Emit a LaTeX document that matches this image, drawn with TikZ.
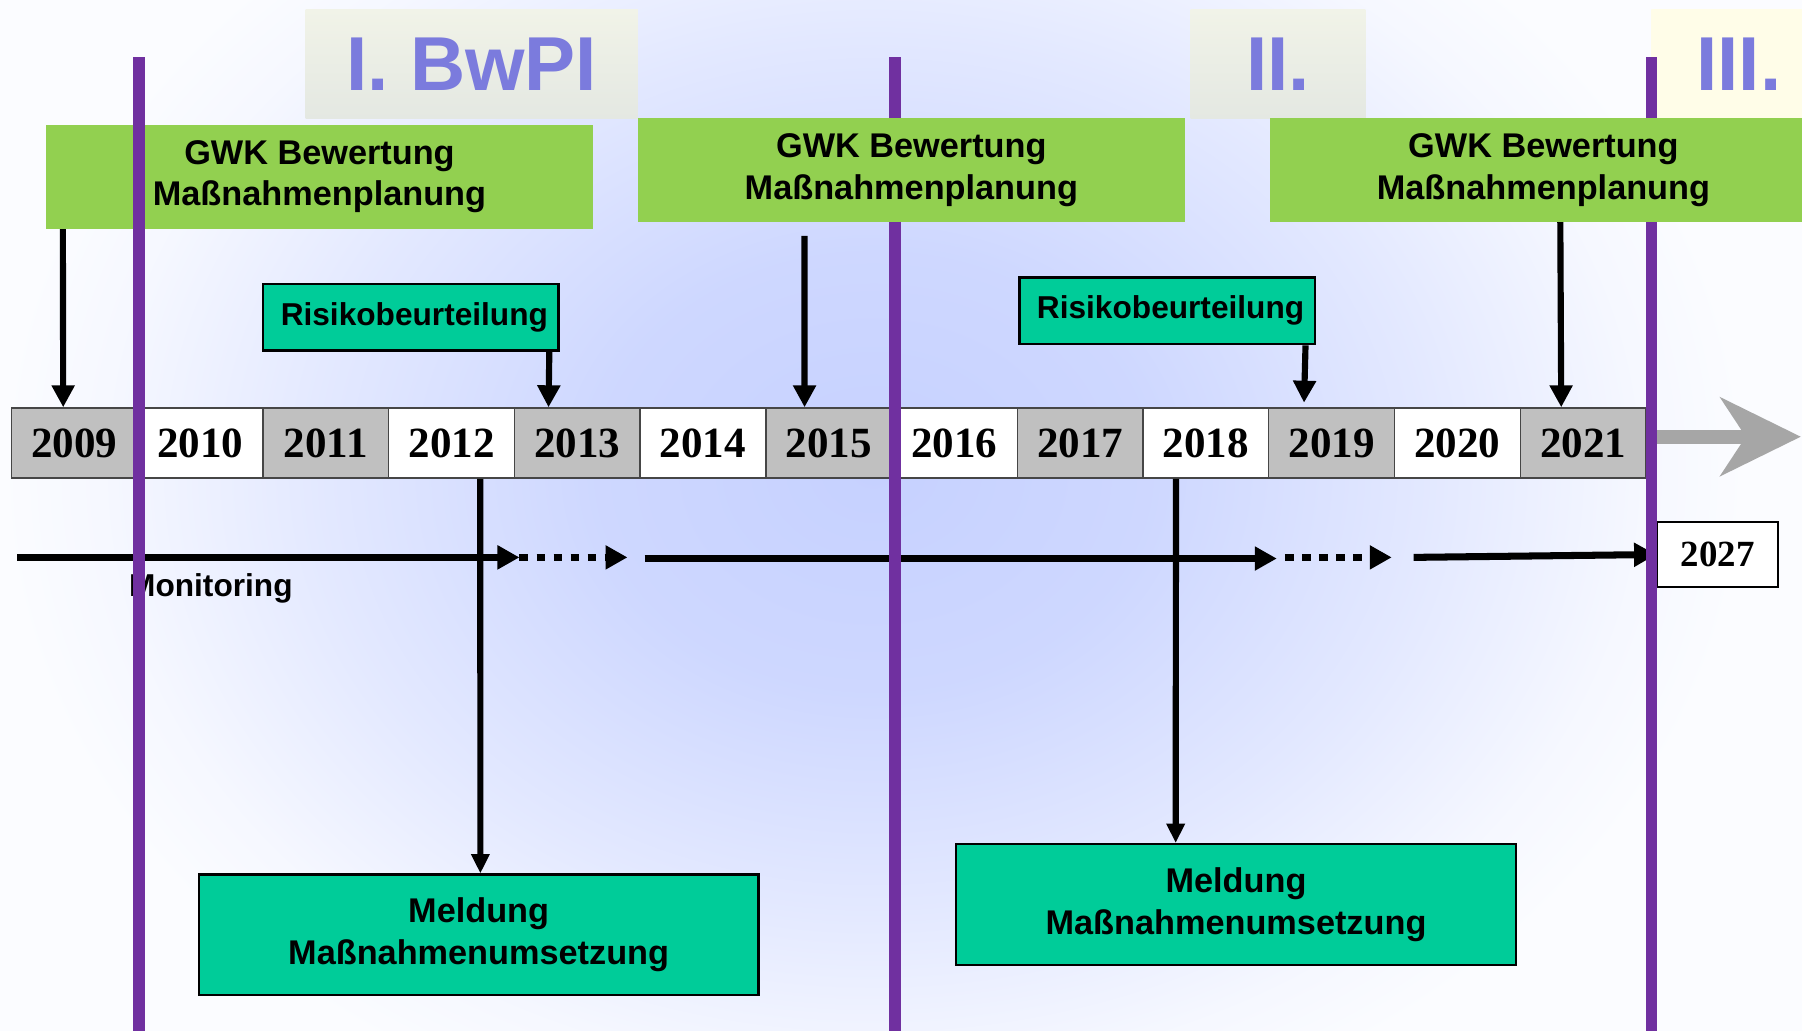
\documentclass[tikz,border=0pt]{standalone}
\usepackage{fontspec}
\setmainfont{Liberation Serif}
\newfontfamily\arial{Liberation Sans}
\usetikzlibrary{arrows.meta}
\definecolor{gwkgruen}{RGB}{146,208,80}
\definecolor{risikogruen}{RGB}{0,204,153}
\definecolor{lila}{RGB}{112,48,160}
\definecolor{titelblau}{RGB}{123,123,221}
\definecolor{jahrgrau}{RGB}{192,192,192}
\definecolor{jahrrand}{RGB}{70,70,70}
\definecolor{pfeilgrau}{RGB}{166,166,166}
\definecolor{phaseoben}{RGB}{241,243,232}
\definecolor{phaseunten}{RGB}{228,232,226}
\definecolor{phasegelb}{RGB}{255,253,232}
\definecolor{bginnen}{RGB}{198,209,255}
\definecolor{bgaussen}{RGB}{251,252,255}
\pgfdeclareradialshading{bgschatten}{\pgfpoint{0bp}{0bp}}{color(0bp)=(bginnen); color(8bp)=(bginnen!85!bgaussen); color(16bp)=(bginnen!45!bgaussen); color(22bp)=(bginnen!10!bgaussen); color(25bp)=(bgaussen); color(50bp)=(bgaussen)}
\newcommand\pu{0.022985cm}

\begin{document}
\begin{tikzpicture}[x=\pu,y=-\pu,
        phase/.style={inner sep=0pt,minimum height=95*\pu,top color=phaseoben,bottom color=phaseunten,text=titelblau,font=\arial\bfseries\fontsize{43.5}{50}\selectfont},
        gwk/.style={inner sep=0pt,fill=gwkgruen,minimum width=476*\pu,minimum height=90*\pu,align=center,font=\arial\bfseries\fontsize{19.5}{23.5}\selectfont},
        risiko/.style={inner sep=0pt,fill=risikogruen,draw=black,line width=1.3pt,minimum width=257*\pu,minimum height=58*\pu,font=\arial\bfseries\fontsize{18}{21}\selectfont},
        meldung/.style={inner sep=0pt,fill=risikogruen,draw=black,line width=1.3pt,minimum width=487*\pu,minimum height=105*\pu,align=center,font=\arial\bfseries\fontsize{19.5}{24}\selectfont},
        jahr/.style={inner sep=0pt,draw=jahrrand,line width=0.8pt,minimum width=109.4*\pu,minimum height=61*\pu,font=\bfseries\fontsize{24.5}{28}\selectfont},
        pfeil/.style={line width=3.5pt,-{Triangle[length=12.5pt,width=12.5pt]}},
        mpfeil/.style={line width=4pt,-{Triangle[length=12.5pt,width=13pt]}},
        punkte/.style={dash pattern=on 5pt off 4.7pt},
        zeitpfeil/.style={draw=pfeilgrau,line width=7.9pt,-{Stealth[length=45.6pt,width=44.3pt,inset=14.3pt,fill=pfeilgrau]}},
        trenner/.style={draw=lila,line width=6.6pt}]
        \useasboundingbox (0,0) rectangle (1568,897);
        \fill[bgaussen] (0,0) rectangle (1568,897);
        \begin{scope}
            \clip (0,0) rectangle (1568,897);
            \shade[shading=bgschatten] (760,410) ellipse [x radius=760,y radius=600];
        \end{scope}

        \node[phase,minimum width=289*\pu] (ph1) at (410.5,55.5) {I. BwPI};
        \node[phase,minimum width=152*\pu] (ph2) at (1112,55.5) {II.};
        \node[phase,minimum width=152*\pu,top color=phasegelb,bottom color=phasegelb] (ph3) at (1513,55.5) {III.};

        \node[gwk] (gwk1) at (278,154) {GWK Bewertung\\Maßnahmenplanung};
        \node[gwk] (gwk2) at (793,148) {GWK Bewertung\\Maßnahmenplanung};
        \node[gwk] (gwk3) at (1343,148) {GWK Bewertung\\Maßnahmenplanung};

        \node[risiko] (ri1) at (357.5,276) {\hspace{4pt}Risikobeurteilung};
        \node[risiko] (ri2) at (1015.5,270.5) {\hspace{4pt}Risikobeurteilung};

        \foreach \j in {0,...,12}{
            \pgfmathtruncatemacro\yr{2009+\j}
            \ifodd\j \def\zf{white}\else\def\zf{jahrgrau}\fi
            \node[jahr,fill=\zf] (y\yr) at ({64.7+109.4*\j},385.5) {\yr};
        }

        \coordinate (zs) at (1441,380);
        \coordinate (ze) at (1567,380);
        \draw[zeitpfeil] (zs) -- (ze);

        \draw[pfeil] ([xshift=15*\pu]gwk1.south west) -- ([xshift=-9.7*\pu]y2009.north);
        \draw[pfeil] ([xshift=-9*\pu]ri1.south east) -- ([xshift=-25*\pu]y2013.north);
        \draw[pfeil] ([xshift=-93*\pu,yshift=-12*\pu]gwk2.south) -- ([xshift=-21*\pu]y2015.north);
        \draw[pfeil] ([xshift=-9*\pu]ri2.south east) -- ([xshift=-24*\pu,yshift=4*\pu]y2019.north);
        \draw[pfeil] ([xshift=253*\pu]gwk3.south west) -- ([xshift=-19*\pu]y2021.north);

        \node[meldung] (me1) at (416.5,813.5) {Meldung\\Maßnahmenumsetzung};
        \node[meldung] (me2) at (1075.5,787) {Meldung\\Maßnahmenumsetzung};
        \draw[pfeil,-{Triangle[length=11pt,width=10pt]}] ([xshift=25*\pu]y2012.south) -- ([xshift=1.5*\pu]me1.north);
        \draw[pfeil,-{Triangle[length=11pt,width=10pt]}] ([xshift=-26*\pu]y2018.south) -- ([xshift=-52.5*\pu]me2.north);

        \node[inner sep=0pt,fill=white,draw=black,line width=1.3pt,minimum width=105*\pu,minimum height=57*\pu,font=\bfseries\fontsize{21}{24}\selectfont] (y2027) at (1494.5,482.5) {2027};
        \node[inner sep=0pt,font=\arial\bfseries\fontsize{18}{21}\selectfont] (mon) at (183.5,512) {Monitoring};

        \coordinate (m1) at (15,485);
        \coordinate (m2) at (452,485);
        \coordinate (m3) at (546,485);
        \coordinate (m4) at (561,486);
        \coordinate (m5) at (1111,486);
        \coordinate (m6) at (1118,485);
        \coordinate (m7) at (1211,485);
        \coordinate (m8) at (1230,485);
        \draw[mpfeil] (m1) -- (m2);
        \draw[mpfeil,punkte] (m2) -- (m3);
        \draw[mpfeil] (m4) -- (m5);
        \draw[mpfeil,punkte] (m6) -- (m7);
        \draw[mpfeil] (m8) -- (y2027.west);

        \draw[trenner] (121,50) -- (121,900);
        \draw[trenner] (779,50) -- (gwk2.north -| 779,0);
        \draw[trenner] (gwk2.south -| 779,0) -- (779,900);
        \draw[trenner] (1437,50) -- (gwk3.north -| 1437,0);
        \draw[trenner] (gwk3.south -| 1437,0) -- (1437,900);
\end{tikzpicture}
\end{document}
